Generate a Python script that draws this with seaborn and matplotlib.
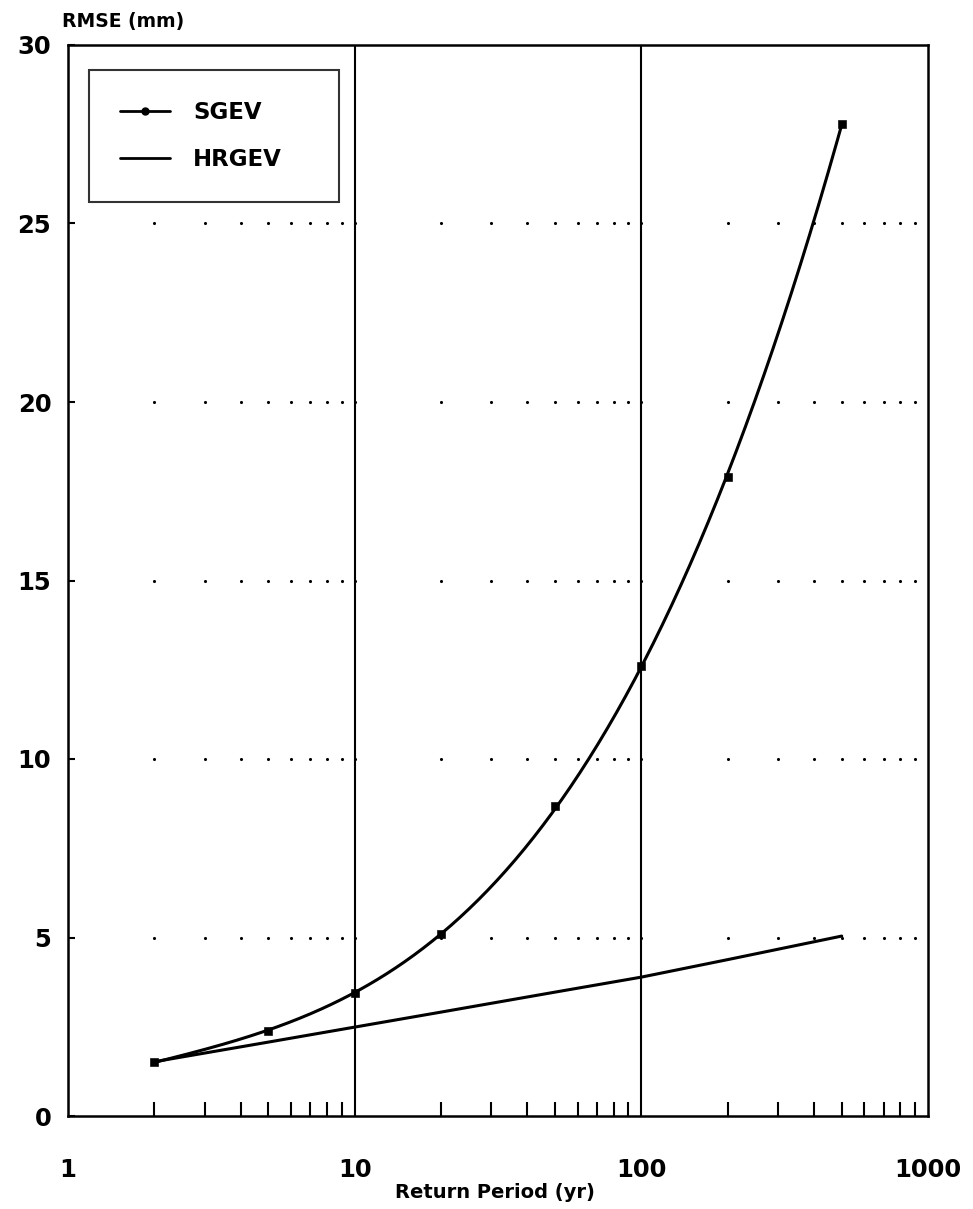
import numpy as np
import pandas as pd
import matplotlib
matplotlib.use("Agg")
import matplotlib.pyplot as plt
from matplotlib.lines import Line2D
from matplotlib.ticker import LogLocator, NullFormatter, FixedLocator, FixedFormatter
import seaborn as sns

# Data
return_period = [2, 5, 10, 20, 50, 100, 200, 500]
sgev_rmse = [1.52, 2.37, 3.45, 5.10, 8.67, 12.6, 17.9, 27.8]
hrgev_rmse = [1.52, 2.07, 2.49, 2.91, 3.47, 3.89, 4.38, 5.04]
x_tick_values = [1, 10, 100, 1000]
x_tick_labels = ["1", "10", "100", "1000"]
y_tick_values = [0, 5, 10, 15, 20, 25, 30]
y_tick_labels = ["0", "5", "10", "15", "20", "25", "30"]
series_names = ["SGEV", "HRGEV"]

sns.set_theme(style="white")
plt.rcParams["font.family"] = ["DejaVu Sans"]
plt.rcParams["font.weight"] = "bold"
plt.rcParams["text.color"] = "black"
plt.rcParams["legend.labelcolor"] = "black"

df = pd.DataFrame({"T": return_period, "SGEV": sgev_rmse, "HRGEV": hrgev_rmse})

# Smooth SGEV curve: cubic fit in log10(T)
coef = np.polyfit(np.log10(df["T"]), df["SGEV"], 3)
t_fine = np.geomspace(min(return_period), max(return_period), 300)
fit = pd.DataFrame({"T": t_fine, "RMSE": np.polyval(coef, np.log10(t_fine))})

fig = plt.figure(figsize=(9.73, 12.09), dpi=100)
ax = fig.add_axes([68 / 973, 1 - 1116 / 1209, 860 / 973, 1071 / 1209])
ax.set_xscale("log")
ax.set_xlim(1, 1000)
ax.set_ylim(0, 30)

# Vertical lines at the decades and dotted rows at each minor log position
for xv in [10, 100]:
    ax.axvline(xv, color="black", lw=1.5, zorder=1)
dot_x = [m * d for d in [1, 10, 100] for m in range(2, 10)] + [10, 100]
for yv in y_tick_values[1:-1]:
    ax.scatter(dot_x, [yv] * len(dot_x), s=5, color="black", lw=0, zorder=1)

sns.lineplot(data=fit, x="T", y="RMSE", ax=ax, color="black", lw=2.2, zorder=3)
sns.scatterplot(data=df, x="T", y="SGEV", ax=ax, color="black", marker="s",
                s=30, edgecolor="black", zorder=4)
sns.lineplot(data=df, x="T", y="HRGEV", ax=ax, color="black", lw=2.2, zorder=3)

for s in ax.spines.values():
    s.set_color("black")
    s.set_linewidth(1.8)

ax.xaxis.set_major_locator(FixedLocator(x_tick_values))
ax.xaxis.set_major_formatter(FixedFormatter(x_tick_labels))
ax.xaxis.set_minor_locator(LogLocator(base=10, subs=range(2, 10)))
ax.xaxis.set_minor_formatter(NullFormatter())
ax.yaxis.set_major_locator(FixedLocator(y_tick_values))
ax.yaxis.set_major_formatter(FixedFormatter(y_tick_labels))

ax.tick_params(axis="x", which="major", direction="in", length=0, pad=30,
               labelsize=17.5, labelcolor="black")
ax.tick_params(axis="x", which="minor", direction="in", length=10, width=1.5,
               bottom=True, top=False, color="black")
ax.tick_params(axis="y", which="major", direction="in", length=5, width=1.5,
               left=True, pad=12, labelsize=17.5, color="black",
               labelcolor="black")
for lab in ax.get_xticklabels() + ax.get_yticklabels():
    lab.set_fontweight("bold")

ax.set_xlabel("")
ax.set_ylabel("")
fig.text(495 / 973, 1 - 1192 / 1209, "Return Period (yr)", ha="center",
         va="center", fontsize=14, fontweight="bold", color="black")
fig.text(62 / 973, 1 - 22 / 1209, "RMSE (mm)", ha="left", va="center",
         fontsize=13.5, fontweight="bold", color="black")

handles = [
    Line2D([], [], color="black", lw=2, marker="o", markersize=5),
    Line2D([], [], color="black", lw=2),
]
leg = ax.legend(handles, series_names, loc="upper left",
                bbox_to_anchor=((89 - 68) / 860, 1 - (70 - 45) / 1071,
                                250 / 860, 0.0),
                mode="expand", borderaxespad=0, numpoints=1,
                prop={"size": 16.5, "weight": "bold"}, handlelength=2.2,
                handletextpad=1.0, labelspacing=1.05, borderpad=1.35,
                frameon=True, fancybox=False, labelcolor="black")
leg.get_frame().set_edgecolor("black")
leg.get_frame().set_linewidth(1.5)

fig.savefig("out.png", dpi=100, facecolor="white")
